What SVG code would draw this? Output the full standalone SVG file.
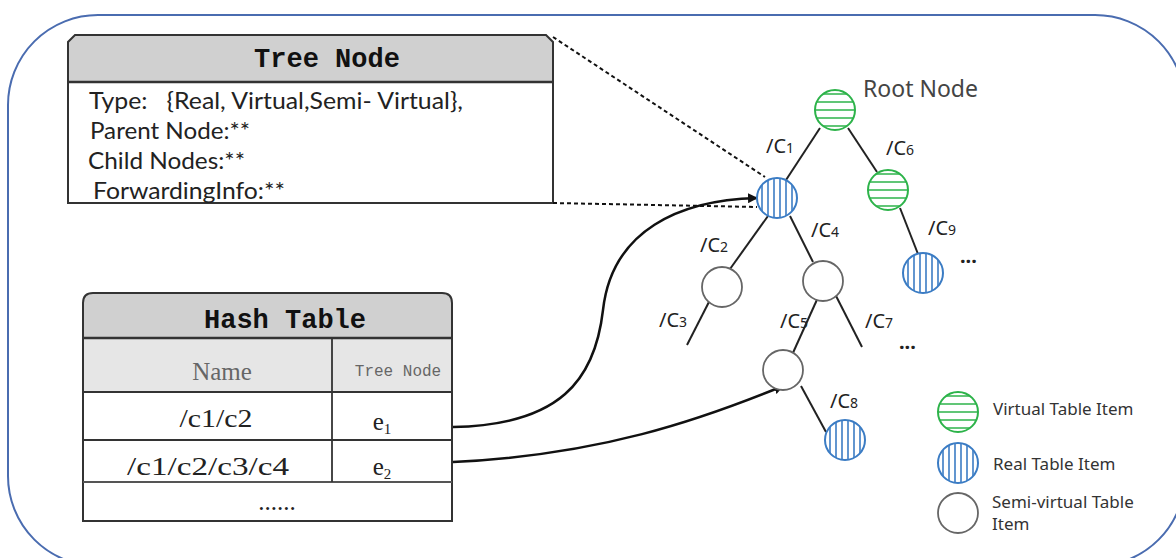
<svg xmlns="http://www.w3.org/2000/svg" width="1176" height="558" viewBox="0 0 1176 558">
<style>
.frame{fill:none;stroke:#4a6cb0;stroke-width:2}
.box{fill:none;stroke:#333;stroke-width:2}
.hdr{fill:#d0d0d0}
.title{font-family:"Liberation Mono",monospace;font-weight:bold;font-size:27px;fill:#111;text-anchor:middle}
.body{font-family:Lato,"Liberation Sans",sans-serif;font-size:23px;fill:#222;white-space:pre}
.ser{font-family:"Liberation Serif",serif;font-size:25px;fill:#222;text-anchor:middle}
.lbl{font-family:"Noto Sans","Liberation Sans",sans-serif;font-size:20px;fill:#222}
.leg{font-family:"Noto Sans","Liberation Sans",sans-serif;font-size:17px;fill:#333}
.edge{stroke:#222;stroke-width:2;fill:none}
.dash{stroke:#111;stroke-width:2;stroke-dasharray:4 3;fill:none}
.arrow{stroke:#111;stroke-width:2.5;fill:none;marker-end:url(#ah)}
.gline{stroke:#2db34a;stroke-width:1.6}
.bline{stroke:#3b7cc4;stroke-width:1.6}
</style>
<defs>
<marker id="ah" viewBox="0 0 10 10" refX="9" refY="5" markerWidth="4" markerHeight="4" orient="auto" markerUnits="strokeWidth">
<path d="M0,0 L10,5 L0,10 Z" fill="#111"/>
</marker>
<clipPath id="cc"><circle cx="0" cy="0" r="20"/></clipPath>
<g id="vnode">
<circle cx="0" cy="0" r="20" fill="#fff"/>
<g clip-path="url(#cc)" class="gline">
<line x1="-21" y1="-16" x2="21" y2="-16"/><line x1="-21" y1="-8" x2="21" y2="-8"/><line x1="-21" y1="0" x2="21" y2="0"/><line x1="-21" y1="8" x2="21" y2="8"/><line x1="-21" y1="16" x2="21" y2="16"/>
</g>
<circle cx="0" cy="0" r="20" fill="none" stroke="#2db34a" stroke-width="2"/>
</g>
<g id="rnode">
<circle cx="0" cy="0" r="20" fill="#fff"/>
<g clip-path="url(#cc)" class="bline">
<line x1="-15" y1="-21" x2="-15" y2="21"/><line x1="-9" y1="-21" x2="-9" y2="21"/><line x1="-3" y1="-21" x2="-3" y2="21"/><line x1="3" y1="-21" x2="3" y2="21"/><line x1="9" y1="-21" x2="9" y2="21"/><line x1="15" y1="-21" x2="15" y2="21"/>
</g>
<circle cx="0" cy="0" r="20" fill="none" stroke="#3b7cc4" stroke-width="2"/>
</g>
<g id="snode">
<circle cx="0" cy="0" r="20" fill="#fff" stroke="#666" stroke-width="1.8"/>
</g>
</defs>
<rect width="1176" height="558" fill="#fff"/>
<rect class="frame" x="8" y="15" width="1177" height="551" rx="90" ry="90"/>

<g id="tree-node-box">
<path class="hdr" d="M68,82 V42 L75,35 H546 L553,42 V82 Z"/>
<path class="box" d="M68,203 V42 L75,35 H546 L553,42 V203 Z"/>
<line x1="68" y1="82" x2="553" y2="82" stroke="#333" stroke-width="2.5"/>
<text class="title" x="327" y="67">Tree Node</text>
<text class="body" x="89" y="109" textLength="374" lengthAdjust="spacingAndGlyphs" xml:space="preserve">Type:   {Real, Virtual,Semi- Virtual},</text>
<text class="body" x="90" y="139" textLength="160" lengthAdjust="spacingAndGlyphs">Parent Node:**</text>
<text class="body" x="88" y="169" textLength="157" lengthAdjust="spacingAndGlyphs">Child Nodes:**</text>
<text class="body" x="93" y="199" textLength="192" lengthAdjust="spacingAndGlyphs">ForwardingInfo:**</text>
</g>

<g id="hash-table">
<path class="hdr" d="M83,338 V303 Q83,293 93,293 H442 Q452,293 452,303 V338 Z"/>
<rect x="83" y="338" width="369" height="54" fill="#e6e6e6"/>
<path class="box" d="M83,521 V303 Q83,293 93,293 H442 Q452,293 452,303 V521 Z"/>
<line x1="83" y1="338" x2="452" y2="338" stroke="#333" stroke-width="2.5"/>
<line x1="83" y1="392" x2="452" y2="392" stroke="#333" stroke-width="1.8"/>
<line x1="83" y1="440" x2="452" y2="440" stroke="#333" stroke-width="1.8"/>
<line x1="83" y1="482" x2="452" y2="482" stroke="#555" stroke-width="2"/>
<line x1="332" y1="338" x2="332" y2="482" stroke="#333" stroke-width="1.8"/>
<text class="title" x="285" y="328">Hash Table</text>
<text class="ser" x="222" y="380" style="fill:#666">Name</text>
<text x="398" y="376" font-family="Liberation Mono, monospace" font-size="16" fill="#666" text-anchor="middle">Tree Node</text>
<text class="ser" x="216" y="427" textLength="73" lengthAdjust="spacingAndGlyphs">/c1/c2</text>
<text class="ser" x="208" y="475" textLength="162" lengthAdjust="spacingAndGlyphs">/c1/c2/c3/c4</text>
<text class="ser" x="382" y="430">e<tspan font-size="15" dy="4">1</tspan></text>
<text class="ser" x="382" y="475">e<tspan font-size="15" dy="4">2</tspan></text>
<text class="ser" x="277" y="510">......</text>
</g>

<g id="connectors">
<line class="dash" x1="553" y1="37" x2="765" y2="177"/>
<line class="dash" x1="553" y1="203" x2="757" y2="207"/>
<line class="edge" x1="820" y1="128" x2="786" y2="180"/>
<line class="edge" x1="848" y1="128" x2="877" y2="172"/>
<line class="edge" x1="900" y1="208" x2="918" y2="254"/>
<line class="edge" x1="768" y1="216" x2="730" y2="269"/>
<line class="edge" x1="790" y1="216" x2="813" y2="262"/>
<line class="edge" x1="712" y1="296" x2="687" y2="345"/>
<line class="edge" x1="820" y1="293" x2="792" y2="355"/>
<line class="edge" x1="833" y1="290" x2="862" y2="347"/>
<line class="edge" x1="801" y1="386" x2="826" y2="432"/>
<path class="arrow" d="M453,427 C560,425 595,380 603,310 C612,230 680,200 757,198"/>
<path class="arrow" d="M453,462 C600,455 700,420 783,386"/>
</g>

<g id="root-node">
<use href="#vnode" x="835" y="110"/>
<text x="863" y="97" font-family="Noto Sans, Liberation Sans, sans-serif" font-size="23" fill="#444">Root Node</text>
</g>
<g id="node-c1"><use href="#rnode" x="777" y="198"/></g>
<g id="node-c6"><use href="#vnode" x="888" y="190"/></g>
<g id="node-c9"><use href="#rnode" x="923" y="273"/></g>
<g id="node-c2"><use href="#snode" x="722" y="287"/></g>
<g id="node-c4"><use href="#snode" x="823" y="281"/></g>
<g id="node-c5"><use href="#snode" x="783" y="370"/></g>
<g id="node-c8"><use href="#rnode" x="845" y="440"/></g>

<g id="edge-labels">
<text class="lbl" x="766" y="153">/C<tspan font-size="14">1</tspan></text>
<text class="lbl" x="886" y="155">/C<tspan font-size="14">6</tspan></text>
<text class="lbl" x="700" y="252">/C<tspan font-size="14">2</tspan></text>
<text class="lbl" x="811" y="237">/C<tspan font-size="14">4</tspan></text>
<text class="lbl" x="928" y="235">/C<tspan font-size="14">9</tspan></text>
<text class="lbl" x="659" y="327">/C<tspan font-size="14">3</tspan></text>
<text class="lbl" x="780" y="328">/C<tspan font-size="14">5</tspan></text>
<text class="lbl" x="865" y="328">/C<tspan font-size="14">7</tspan></text>
<text class="lbl" x="830" y="408">/C<tspan font-size="14">8</tspan></text>
<text class="lbl" x="960" y="268" font-weight="bold">···</text>
<text class="lbl" x="899" y="354" font-weight="bold">···</text>
</g>

<g id="legend">
<use href="#vnode" x="958" y="412"/>
<text class="leg" x="993" y="415">Virtual Table Item</text>
<use href="#rnode" x="958" y="463"/>
<text class="leg" x="993" y="470">Real Table Item</text>
<use href="#snode" x="958" y="513"/>
<text class="leg" x="992" y="508">Semi-virtual Table</text>
<text class="leg" x="992" y="530">Item</text>
</g>
</svg>
